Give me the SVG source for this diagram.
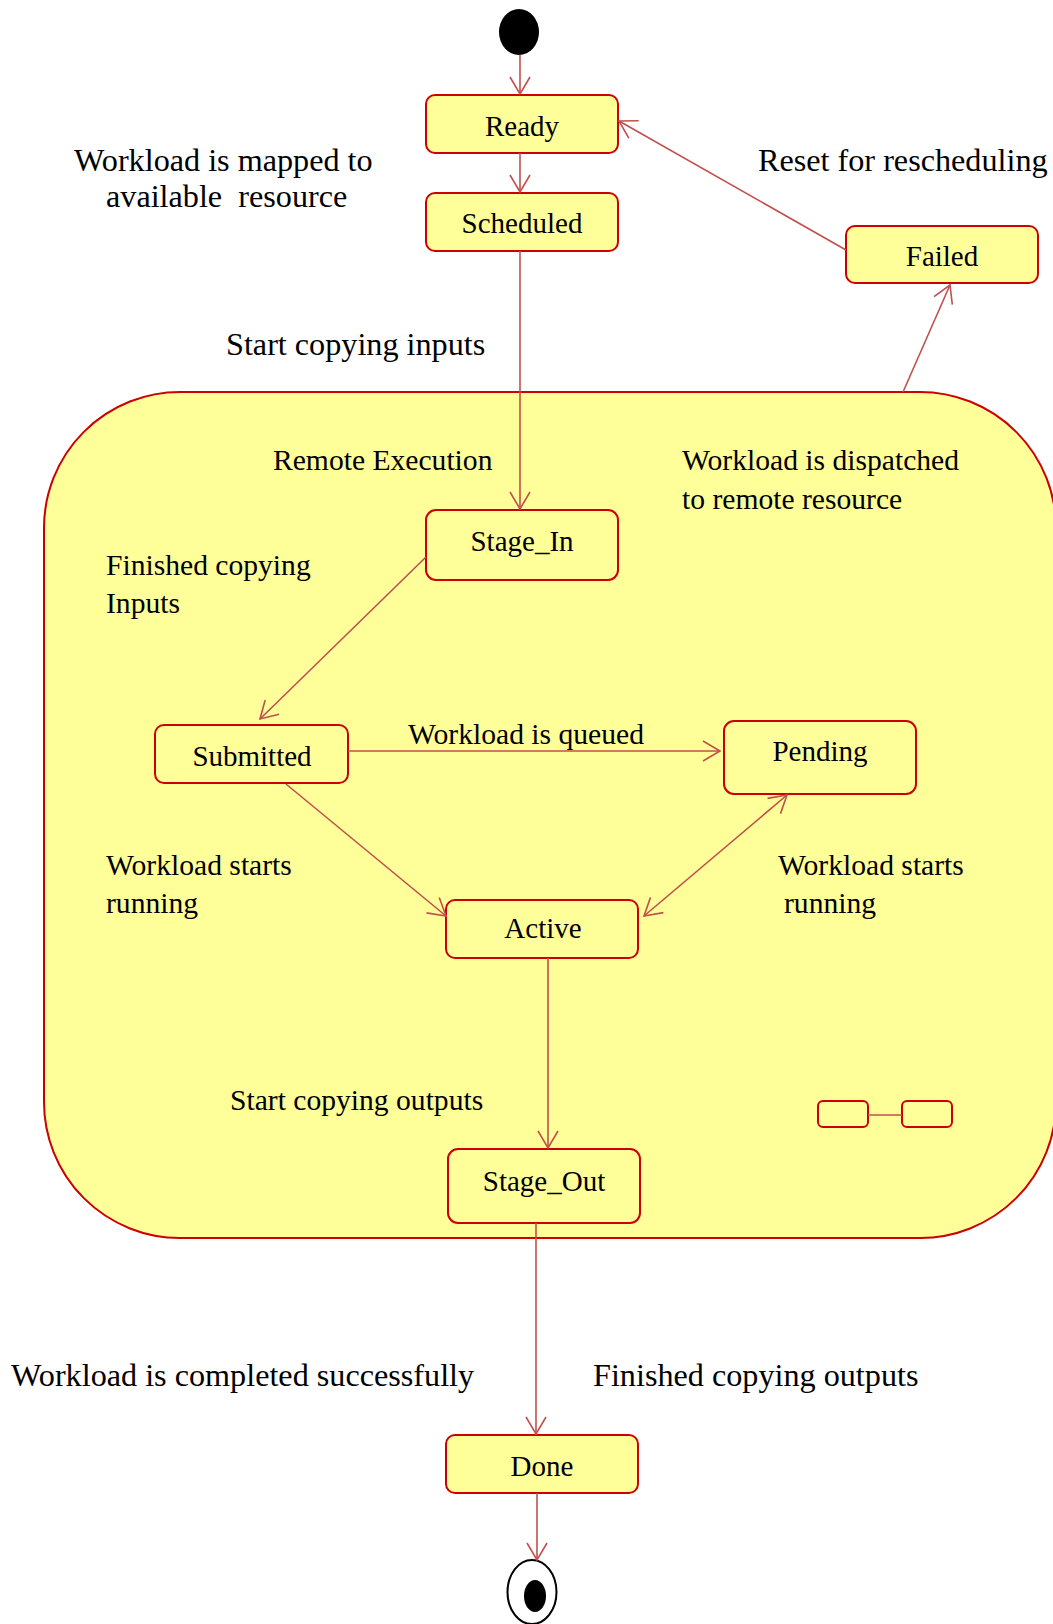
<svg xmlns="http://www.w3.org/2000/svg" width="1053" height="1624" viewBox="0 0 1053 1624">
  <style>
    .state { fill: #ffff99; stroke: #cc0000; stroke-width: 2; }
    .name { font-family: "Liberation Serif", "Times New Roman", serif; font-size: 29px; fill: #000; text-anchor: middle; }
    .lbl { font-family: "Liberation Serif", "Times New Roman", serif; font-size: 32.2px; fill: #000; }
    .lbl-in { font-family: "Liberation Serif", "Times New Roman", serif; font-size: 29.6px; fill: #000; }
    .edge { fill: none; stroke: #c0504d; stroke-width: 1.6; }
  </style>
  <defs>
    <marker id="open" markerUnits="userSpaceOnUse" markerWidth="24" markerHeight="24" viewBox="-20 -12 22 24" refX="0" refY="0" orient="auto-start-reverse">
      <path d="M -17 -10 L 0 0 L -17 10" fill="none" stroke="#c0504d" stroke-width="1.6"/>
    </marker>
  </defs>

  <!-- composite state: remote execution -->
  <g id="remote-execution">
    <rect class="state" x="44" y="392" width="1012" height="846" rx="136" ry="136"/>
    <text class="lbl-in" x="273" y="470">Remote Execution</text>
    <!-- composite-state decoration -->
    <rect class="state" x="818" y="1101" width="50" height="26" rx="5"/>
    <rect class="state" x="902" y="1101" width="50" height="26" rx="5"/>
    <line class="edge" x1="868" y1="1115" x2="902" y2="1115"/>
  </g>

  <g id="initial">
    <ellipse cx="519" cy="32" rx="20" ry="23" fill="#000"/>
  </g>

  <g id="ready">
    <rect class="state" x="426" y="95" width="192" height="58" rx="9"/>
    <text class="name" x="522" y="136">Ready</text>
  </g>

  <g id="scheduled">
    <rect class="state" x="426" y="193" width="192" height="58" rx="9"/>
    <text class="name" x="522" y="233">Scheduled</text>
  </g>

  <g id="failed">
    <rect class="state" x="846" y="226" width="192" height="57" rx="9"/>
    <text class="name" x="942" y="266">Failed</text>
  </g>

  <g id="stage-in">
    <rect class="state" x="426" y="510" width="192" height="70" rx="10"/>
    <text class="name" x="522" y="551">Stage_In</text>
  </g>

  <g id="submitted">
    <rect class="state" x="155" y="725" width="193" height="58" rx="9"/>
    <text class="name" x="252" y="766">Submitted</text>
  </g>

  <g id="pending">
    <rect class="state" x="724" y="721" width="192" height="73" rx="10"/>
    <text class="name" x="820" y="761">Pending</text>
  </g>

  <g id="active">
    <rect class="state" x="446" y="900" width="192" height="58" rx="9"/>
    <text class="name" x="543" y="938">Active</text>
  </g>

  <g id="stage-out">
    <rect class="state" x="448" y="1149" width="192" height="74" rx="10"/>
    <text class="name" x="544" y="1191">Stage_Out</text>
  </g>

  <g id="done">
    <rect class="state" x="446" y="1435" width="192" height="58" rx="9"/>
    <text class="name" x="542" y="1476">Done</text>
  </g>

  <g id="final">
    <ellipse cx="532" cy="1592" rx="24.5" ry="32" fill="#fff" stroke="#000" stroke-width="2"/>
    <ellipse cx="535" cy="1596" rx="11" ry="16" fill="#000"/>
  </g>

  <!-- transitions -->
  <g id="connectors">
    <line class="edge" x1="520" y1="55" x2="520" y2="94" marker-end="url(#open)"/>
    <line class="edge" x1="520" y1="153" x2="520" y2="192" marker-end="url(#open)"/>
    <line class="edge" x1="520" y1="251" x2="520" y2="509" marker-end="url(#open)"/>
    <line class="edge" x1="846" y1="250" x2="619" y2="121" marker-end="url(#open)"/>
    <line class="edge" x1="903" y1="392" x2="950" y2="285" marker-end="url(#open)"/>
    <line class="edge" x1="426" y1="557" x2="260" y2="719" marker-end="url(#open)"/>
    <line class="edge" x1="348" y1="751" x2="720" y2="751" marker-end="url(#open)"/>
    <line class="edge" x1="286" y1="784" x2="446" y2="916" marker-end="url(#open)"/>
    <line class="edge" x1="644" y1="916" x2="787" y2="795" marker-start="url(#open)" marker-end="url(#open)"/>
    <line class="edge" x1="548" y1="958" x2="548" y2="1148" marker-end="url(#open)"/>
    <line class="edge" x1="536" y1="1223" x2="536" y2="1434" marker-end="url(#open)"/>
    <line class="edge" x1="537" y1="1493" x2="537" y2="1560" marker-end="url(#open)"/>
  </g>

  <!-- transition labels -->
  <g id="labels">
    <text class="lbl" x="74" y="171">Workload is mapped to</text>
    <text class="lbl" x="106" y="207" xml:space="preserve">available  resource</text>
    <text class="lbl" x="758" y="171">Reset for rescheduling</text>
    <text class="lbl" x="226" y="355">Start copying inputs</text>
    <text class="lbl-in" x="682" y="470">Workload is dispatched</text>
    <text class="lbl-in" x="682" y="509">to remote resource</text>
    <text class="lbl-in" x="106" y="575">Finished copying</text>
    <text class="lbl-in" x="106" y="613">Inputs</text>
    <text class="lbl-in" x="408" y="744">Workload is queued</text>
    <text class="lbl-in" x="106" y="875">Workload starts</text>
    <text class="lbl-in" x="106" y="913">running</text>
    <text class="lbl-in" x="778" y="875">Workload starts</text>
    <text class="lbl-in" x="784" y="913">running</text>
    <text class="lbl-in" x="230" y="1110">Start copying outputs</text>
    <text class="lbl" x="11" y="1386">Workload is completed successfully</text>
    <text class="lbl" x="593" y="1386">Finished copying outputs</text>
  </g>
</svg>
